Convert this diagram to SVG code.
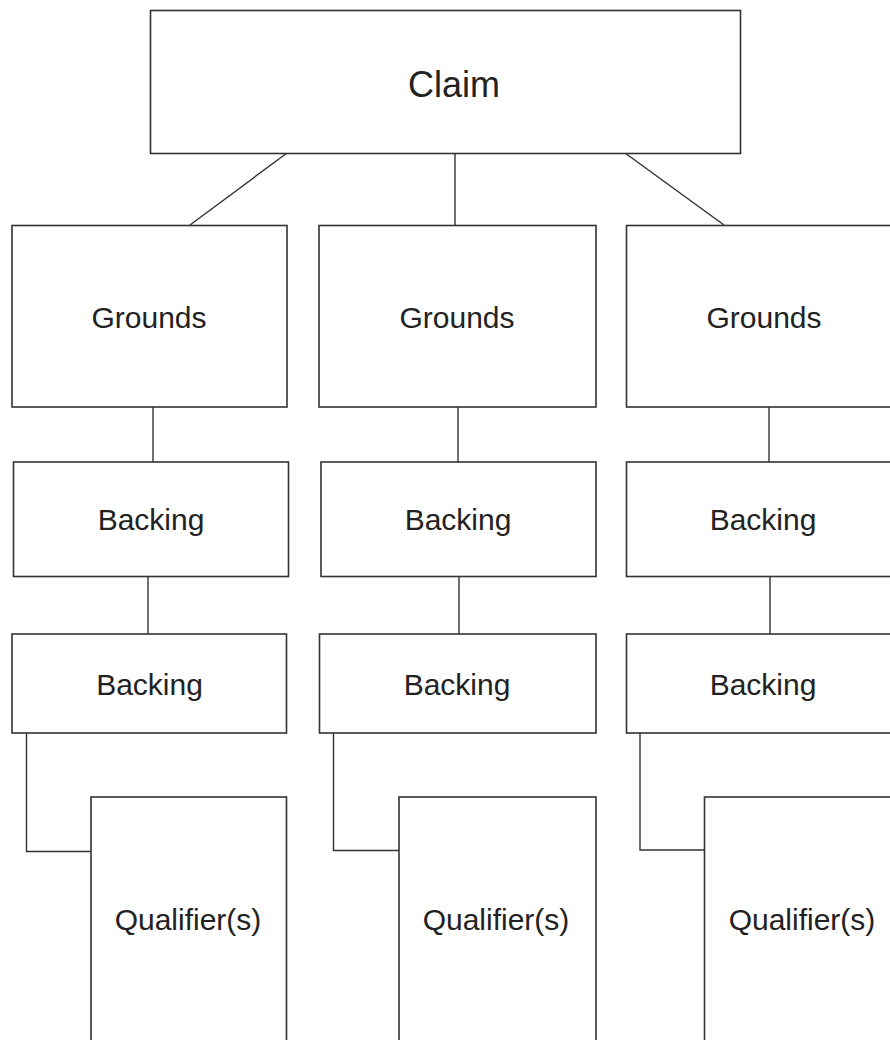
<svg xmlns="http://www.w3.org/2000/svg" width="890" height="1040" viewBox="0 0 890 1040">
<style>
.box{fill:#fff;stroke:#333;stroke-width:1.6}
.c{fill:none;stroke:#333;stroke-width:1.4}
text{font-family:"Liberation Sans",Arial,sans-serif;font-size:30px;fill:#222;text-anchor:middle}
.big{font-size:36px}
</style>
<rect width="890" height="1040" fill="#fff"/>
<g id="connectors">
<line class="c" x1="287" y1="153" x2="190" y2="225"/>
<line class="c" x1="455" y1="153" x2="455" y2="225"/>
<line class="c" x1="625" y1="153" x2="724" y2="225"/>
<line class="c" x1="153" y1="407" x2="153" y2="462"/>
<line class="c" x1="458" y1="407" x2="458" y2="462"/>
<line class="c" x1="769" y1="407" x2="769" y2="462"/>
<line class="c" x1="148" y1="576" x2="148" y2="634"/>
<line class="c" x1="459" y1="576" x2="459" y2="634"/>
<line class="c" x1="770" y1="576" x2="770" y2="634"/>
<polyline class="c" points="26.5,733 26.5,851.5 91,851.5"/>
<polyline class="c" points="333.5,733 333.5,850.5 399,850.5"/>
<polyline class="c" points="640,733 640,850 705,850"/>
</g>
<g id="claim"><rect class="box" x="150.5" y="10.5" width="590" height="143"/><text class="big" x="454" y="97">Claim</text></g>
<g id="grounds1"><rect class="box" x="12" y="225.5" width="275" height="181.5"/><text x="149" y="328">Grounds</text></g>
<g id="grounds2"><rect class="box" x="319" y="225.5" width="277" height="181.5"/><text x="457" y="328">Grounds</text></g>
<g id="grounds3"><rect class="box" x="626.5" y="225.5" width="270" height="181.5"/><text x="764" y="328">Grounds</text></g>
<g id="backing1a"><rect class="box" x="13.5" y="462" width="275" height="114.5"/><text x="151" y="530">Backing</text></g>
<g id="backing1b"><rect class="box" x="321" y="462" width="275" height="114.5"/><text x="458" y="530">Backing</text></g>
<g id="backing1c"><rect class="box" x="626.5" y="462" width="270" height="114.5"/><text x="763" y="530">Backing</text></g>
<g id="backing2a"><rect class="box" x="12" y="634" width="274.5" height="99"/><text x="149.5" y="695">Backing</text></g>
<g id="backing2b"><rect class="box" x="319.5" y="634" width="276.5" height="99"/><text x="457" y="695">Backing</text></g>
<g id="backing2c"><rect class="box" x="626.5" y="634" width="270" height="99"/><text x="763" y="695">Backing</text></g>
<g id="qualifier1"><rect class="box" x="91" y="797" width="195.5" height="260"/><text x="188" y="930">Qualifier(s)</text></g>
<g id="qualifier2"><rect class="box" x="399" y="797" width="197" height="260"/><text x="496" y="930">Qualifier(s)</text></g>
<g id="qualifier3"><rect class="box" x="704.5" y="797" width="192" height="260"/><text x="802" y="930">Qualifier(s)</text></g>
</svg>
